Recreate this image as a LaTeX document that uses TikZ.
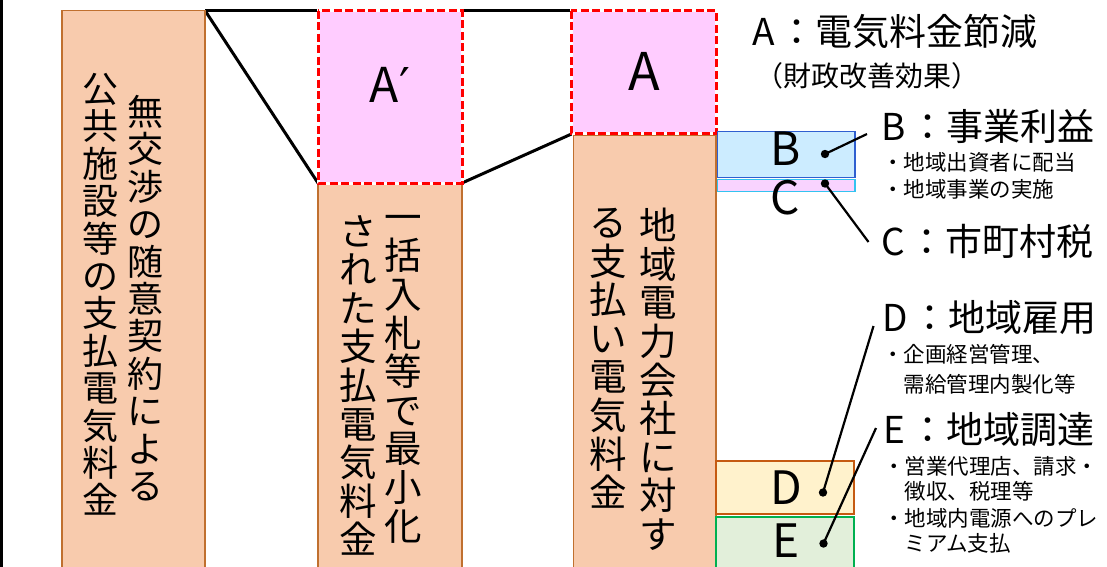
\documentclass[tikz,border=0pt]{standalone}
\usepackage{fontspec}
\setmainfont{Noto Sans CJK JP}
\newfontfamily\djv{DejaVu Sans}
\definecolor{peach}{HTML}{F8CBAD}
\definecolor{peachline}{HTML}{C0702F}
\definecolor{pinkA}{HTML}{FFCCFF}
\definecolor{redA}{HTML}{FF0000}
\definecolor{bfill}{HTML}{CCECFF}
\definecolor{bline}{HTML}{2F5FD0}
\definecolor{cfill}{HTML}{F9D3FF}
\definecolor{cline}{HTML}{33C3F0}
\definecolor{dfill}{HTML}{FFF2CC}
\definecolor{dline}{HTML}{C55A11}
\definecolor{efill}{HTML}{E2EFDA}
\definecolor{eline}{HTML}{00B050}
\begin{document}
\begin{tikzpicture}[x=1pt,y=-1pt,
  bar/.style={draw=peachline, fill=peach, line width=1.5pt},
  cutfill/.style={fill=pinkA},
  cutbase/.style={draw=white, line width=3pt},
  cutdash/.style={draw=redA, line width=3pt, dash pattern=on 8pt off 3.5pt},
  blk/.style={draw=black, line width=3pt},
  conn/.style={draw=black, line width=2.2pt},
  dot/.style={fill=black},
  vcol/.style={align=center, inner sep=0pt, anchor=north, font=\fontsize{36}{37.4}\selectfont},
  vcolb/.style={align=center, inner sep=0pt, anchor=north, font=\fontsize{37.5}{38.6}\selectfont},
  big/.style={anchor=base, inner sep=0pt, font=\fontsize{48}{48}\selectfont},
  let/.style={anchor=base, inner sep=0pt, font=\fontsize{46}{46}\selectfont},
  head/.style={anchor=base west, inner sep=0pt, font=\fontsize{37}{37}\selectfont},
  sub/.style={anchor=base west, inner sep=0pt, font=\fontsize{28}{28}\selectfont},
  item/.style={anchor=base west, inner sep=0pt, font=\fontsize{21.5}{21.5}\selectfont}
]
\useasboundingbox (0,0) rectangle (1107,566);
\clip (0,0) rectangle (1107,566);
\fill[white] (0,0) rectangle (1107,566);

% frame line at left
\draw[blk] (1.5,0) -- (1.5,570);

% named corners
\coordinate (b1tr) at (205,10.5);
\coordinate (aptl) at (318,10.5);
\coordinate (apbl) at (318,183);
\coordinate (apbr) at (462,183);
\coordinate (aptr) at (462,10.5);
\coordinate (atl) at (571,10.5);
\coordinate (abl) at (571.5,134);

% black outline lines
\draw[blk] (b1tr) -- (aptl);
\draw[blk] (aptr) -- (atl);
\draw[blk] (b1tr) -- (apbl);
\draw[blk] (apbr) -- (abl);

% bars
\draw[bar] (62,10.5) rectangle (205,572);
\draw[bar] (318,184) rectangle (462,572);
\draw[bar] (573.5,135) rectangle (716,572);

% A' and A boxes
\fill[cutfill] (318,10.5) rectangle (462,183);
\draw[cutbase] (318,10.5) rectangle (462,183);
\draw[cutdash] (318,10.5) rectangle (462,183);
\fill[cutfill] (571,10.5) rectangle (716,133);
\draw[cutbase] (571,10.5) rectangle (716,133);
\draw[cutdash] (571,10.5) rectangle (716,133);

% B C D E boxes
\draw[draw=bline, fill=bfill, line width=1.5pt] (717.5,131.5) rectangle (855,177.5);
\draw[draw=cline, fill=cfill, line width=1.5pt] (717.5,179.5) rectangle (855,191.5);
\draw[draw=dline, fill=dfill, line width=1.5pt] (716,461) rectangle (854,514);
\draw[draw=eline, fill=efill, line width=1.5pt] (716,517) rectangle (854,572);

% vertical texts
\node[vcol] (t1r) at (145.5,95) {無\\交\\渉\\の\\随\\意\\契\\約\\に\\よ\\る};
\node[vcol] (t1l) at (100.5,73) {公\\共\\施\\設\\等\\の\\支\\払\\電\\気\\料\\金};
\node[vcolb] (t2r) at (403.5,215) {一\\括\\入\\札\\等\\で\\最\\小\\化};
\node[vcolb] (t2l) at (358.5,215) {さ\\れ\\た\\支\\払\\電\\気\\料\\金};
\node[vcolb] (t3r) at (658,208) {地\\域\\電\\力\\会\\社\\に\\対\\す};
\node[vcolb] (t3l) at (608,208) {る\\支\\払\\い\\電\\気\\料\\金};

% big letters
\node[big] (lap) at (390,102) {A{\djv ′}};
\node[big, font=\fontsize{52}{52}\selectfont] (la) at (644,90) {A};
\node[let] (lb) at (785.5,165) {B};
\node[let] (lc) at (785,214) {C};
\node[let] (ld) at (786,504) {D};
\node[let] (le) at (786,557) {E};

% right labels
\node[head] (ha) at (752,45) {A\hspace{4pt}：電気料金節減};
\node[sub] (sa) at (755,86) {（財政改善効果）};
\node[head] (hb) at (881,140) {B\hspace{4pt}：事業利益};
\node[item] (ib1) at (882,170) {・地域出資者に配当};
\node[item] (ib2) at (882,197) {・地域事業の実施};
\node[head] (hc) at (881,255) {C\hspace{4pt}：市町村税};
\node[head] (hd) at (882,331) {D\hspace{4pt}：地域雇用};
\node[item] (id1) at (882,362) {・企画経営管理、};
\node[item] (id2) at (903.5,392) {需給管理内製化等};
\node[head] (he) at (883,443) {E\hspace{4pt}：地域調達};
\node[item] (ie1) at (883,474) {・営業代理店、請求・};
\node[item] (ie2) at (904.5,499) {徴収、税理等};
\node[item] (ie3) at (883,526) {・地域内電源へのプレ};
\node[item] (ie4) at (904.5,551) {ミアム支払};

% dots and connectors
\coordinate (pb) at (825,154);
\coordinate (pc) at (825,183.5);
\coordinate (pd) at (823,492.5);
\coordinate (pe) at (823.5,543.5);
\coordinate (eb) at (867,134);
\coordinate (ec) at (868.5,242);
\coordinate (ed) at (873.5,326);
\coordinate (ee) at (876,428);
\draw[conn] (pb) -- (eb);
\draw[conn] (pc) -- (ec);
\draw[conn] (pd) -- (ed);
\draw[conn] (pe) -- (ee);
\fill[dot] (pb) circle (4.2);
\fill[dot] (pc) circle (4.2);
\fill[dot] (pd) circle (4.2);
\fill[dot] (pe) circle (4.2);
\end{tikzpicture}
\end{document}
